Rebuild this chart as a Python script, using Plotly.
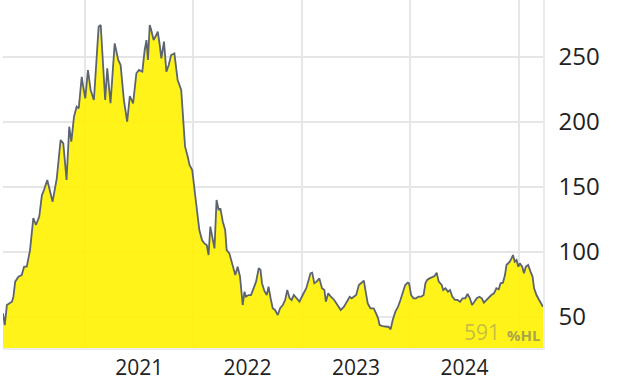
import plotly.graph_objects as go

dates = [
    "2020-03-31", "2020-04-06", "2020-04-13", "2020-04-30", "2020-05-05", "2020-05-11", "2020-05-22",
    "2020-06-02", "2020-06-10", "2020-06-19", "2020-06-30", "2020-07-11", "2020-07-20", "2020-07-31",
    "2020-08-09", "2020-08-14", "2020-08-27", "2020-09-05", "2020-09-14", "2020-09-28", "2020-10-11",
    "2020-10-20", "2020-10-31", "2020-11-09", "2020-11-16", "2020-11-25", "2020-12-04", "2020-12-11",
    "2020-12-21", "2020-12-26",
    "2021-01-02", "2021-01-11", "2021-01-20", "2021-01-31", "2021-02-09", "2021-02-16", "2021-02-23",
    "2021-03-03", "2021-03-10", "2021-03-17", "2021-03-28", "2021-04-11", "2021-04-23", "2021-05-01",
    "2021-05-12", "2021-05-23", "2021-06-01", "2021-06-12", "2021-06-23", "2021-07-02", "2021-07-13",
    "2021-07-21", "2021-07-27", "2021-08-01", "2021-08-07", "2021-08-12", "2021-08-20", "2021-08-29",
    "2021-09-03", "2021-09-09", "2021-09-15", "2021-09-24", "2021-10-02", "2021-10-10", "2021-10-18",
    "2021-10-29", "2021-11-04", "2021-11-09", "2021-11-21", "2021-11-26", "2021-12-04", "2021-12-13",
    "2021-12-19", "2021-12-28",
    "2022-01-04", "2022-01-13", "2022-01-21", "2022-01-30", "2022-02-07", "2022-02-15", "2022-02-21",
    "2022-02-27", "2022-03-07", "2022-03-13", "2022-03-20", "2022-03-27", "2022-04-02", "2022-04-10",
    "2022-04-18", "2022-04-23", "2022-05-02", "2022-05-13", "2022-05-22", "2022-05-30", "2022-06-07",
    "2022-06-16", "2022-06-22", "2022-06-27", "2022-07-06", "2022-07-14", "2022-07-22", "2022-07-31",
    "2022-08-09", "2022-08-15", "2022-08-20", "2022-08-28", "2022-09-05", "2022-09-11", "2022-09-18",
    "2022-09-25", "2022-10-03", "2022-10-12", "2022-10-20", "2022-10-29", "2022-11-06", "2022-11-13",
    "2022-11-21", "2022-11-28", "2022-12-05", "2022-12-13", "2022-12-24",
    "2023-01-04", "2023-01-16", "2023-01-24", "2023-01-30", "2023-02-05", "2023-02-12", "2023-02-20",
    "2023-03-01", "2023-03-10", "2023-03-18", "2023-03-23", "2023-03-31", "2023-04-09", "2023-04-20",
    "2023-05-01", "2023-05-12", "2023-05-23", "2023-06-03", "2023-06-11", "2023-06-18", "2023-06-26",
    "2023-07-03", "2023-07-12", "2023-07-21", "2023-07-29", "2023-08-04", "2023-08-11", "2023-08-20",
    "2023-08-31", "2023-09-08", "2023-09-15", "2023-09-20", "2023-09-30", "2023-10-15", "2023-10-20",
    "2023-10-27", "2023-11-03", "2023-11-12", "2023-11-21", "2023-11-29", "2023-12-06", "2023-12-15",
    "2023-12-24", "2023-12-28",
    "2024-01-04", "2024-01-12", "2024-01-20", "2024-01-29", "2024-02-07", "2024-02-15", "2024-02-21",
    "2024-02-27", "2024-03-06", "2024-03-15", "2024-03-23", "2024-03-30", "2024-04-06", "2024-04-16",
    "2024-04-21", "2024-04-29", "2024-05-07", "2024-05-14", "2024-05-22", "2024-05-31", "2024-06-08",
    "2024-06-17", "2024-06-25", "2024-07-04", "2024-07-12", "2024-07-20", "2024-07-27", "2024-08-04",
    "2024-08-12", "2024-08-21", "2024-08-29", "2024-09-05", "2024-09-13", "2024-09-22", "2024-09-30",
    "2024-10-09", "2024-10-17", "2024-10-25", "2024-10-31", "2024-11-08", "2024-11-15", "2024-11-20",
    "2024-11-25", "2024-12-01", "2024-12-07", "2024-12-12", "2024-12-18", "2024-12-24", "2024-12-30",
    "2025-01-04", "2025-01-12", "2025-01-18", "2025-01-24", "2025-02-01", "2025-02-09", "2025-02-16",
    "2025-02-21", "2025-03-01", "2025-03-10", "2025-03-18", "2025-03-23",
]

prices = [
    52.8, 43.8, 59.2, 61.8, 65.6, 77.2, 81.0,
    82.3, 88.7, 88.7, 101.5, 126.0, 120.8, 127.2,
    143.8, 146.4, 155.4, 147.7, 138.7, 156.7, 186.2,
    183.6, 155.4, 196.4, 184.9, 204.1, 211.8, 210.5,
    234.8, 227.2,
    218.2, 240.0, 224.6, 216.9, 247.7, 273.3, 274.6,
    240.0, 216.9, 241.3, 214.4, 260.5, 247.7, 243.8,
    216.9, 200.2, 220.0, 214.4, 237.5, 240.0, 238.7,
    255.4, 263.0, 247.7, 274.6, 270.8, 263.0, 266.9,
    269.5, 260.5, 249.0, 261.8, 238.7, 243.8, 251.5,
    252.8, 242.6, 232.3, 224.6, 209.2, 181.0, 173.3,
    166.9, 163.1,
    150.2, 132.3, 116.9, 109.2, 106.6, 105.4, 97.7,
    119.5, 109.2, 102.8, 140.0, 132.3, 133.6, 123.3,
    116.9, 101.5, 99.0, 88.7, 82.3, 88.7, 81.0,
    59.2, 69.5, 65.6, 66.9, 66.9, 72.1, 77.2,
    87.5, 86.2, 76.0, 70.0, 66.9, 73.3, 64.4,
    56.7, 55.4, 51.5, 56.7, 59.2, 63.1, 70.8,
    64.4, 63.1, 66.9, 64.4, 61.8,
    66.9, 72.1, 78.5, 83.6, 84.1, 75.9, 77.2,
    79.7, 72.1, 70.8, 61.8, 68.2, 65.6, 63.1,
    59.2, 55.4, 57.9, 63.1, 65.6, 64.4, 65.6,
    66.9, 74.6, 76.4, 77.9, 69.5, 60.5, 56.7,
    56.7, 52.8, 48.9, 43.8, 43.0, 42.5, 42.5,
    40.5, 47.7, 54.1, 57.9, 63.1, 68.2, 74.6,
    76.4, 75.9,
    66.9, 64.4, 64.4, 65.6, 65.6, 66.9, 75.9,
    78.5, 79.7, 81.0, 81.5, 84.1, 77.2, 74.6,
    70.8, 72.1, 69.5, 70.8, 65.6, 63.1, 63.1,
    61.8, 64.4, 64.4, 67.7, 64.4, 59.2, 61.8,
    64.4, 65.6, 64.4, 61.0, 63.1, 65.6, 66.9,
    68.2, 72.1, 71.3, 75.9, 76.4, 82.3, 90.0,
    91.3, 92.5, 95.1, 97.7, 92.5, 93.8, 88.7,
    91.3, 88.7, 83.6, 88.7, 90.0, 84.9, 81.0,
    72.1, 66.9, 63.1, 59.2, 57.9,
]

y_ticks = [50, 100, 150, 200, 250]
y_range = [26.15, 293.85]
hl_value = "591"
hl_unit = "%HL"

fig = go.Figure()
fig.add_trace(go.Scatter(
    x=dates, y=prices, mode="lines",
    line=dict(color="#5c6470", width=1.8),
    fill="tozeroy", fillcolor="rgba(255,242,0,0.9)",
    hoverinfo="skip", showlegend=False,
))

fig.update_layout(
    width=640, height=382,
    margin=dict(l=3, r=97, t=0, b=34),
    paper_bgcolor="white", plot_bgcolor="white",
    font=dict(family="Open Sans", color="#222222"),
    xaxis=dict(
        type="date", range=[dates[0], dates[-1]],
        tick0="2021-01-01", dtick="M12", tickformat="%Y",
        ticklabelmode="period", labelalias={"2020": " "},
        showgrid=True, gridcolor="#e6e6e6", gridwidth=1.5,
        showline=True, linecolor="#ebebeb", linewidth=1.5,
        ticks="", tickfont=dict(size=21, color="#222222"),
        zeroline=False, fixedrange=True,
    ),
    yaxis=dict(
        side="right", range=y_range, tickvals=y_ticks,
        showgrid=True, gridcolor="#e6e6e6", gridwidth=1.5,
        showline=True, linecolor="#ebebeb", linewidth=1.5,
        ticks="", ticklabelstandoff=9,
        tickfont=dict(size=24, color="#222222"),
        zeroline=False, fixedrange=True,
    ),
)

fig.add_annotation(
    xref="paper", yref="paper", x=1, y=0, xanchor="right", yanchor="bottom",
    xshift=-41, yshift=0, showarrow=False,
    text=hl_value, font=dict(size=21, color="rgba(120,120,120,0.45)"),
)
fig.add_annotation(
    xref="paper", yref="paper", x=1, y=0, xanchor="right", yanchor="bottom",
    xshift=-1, yshift=1, showarrow=False,
    text="<b>" + hl_unit + "</b>", font=dict(size=15, color="rgba(110,110,110,0.6)"),
)

fig.write_html("out.html")
